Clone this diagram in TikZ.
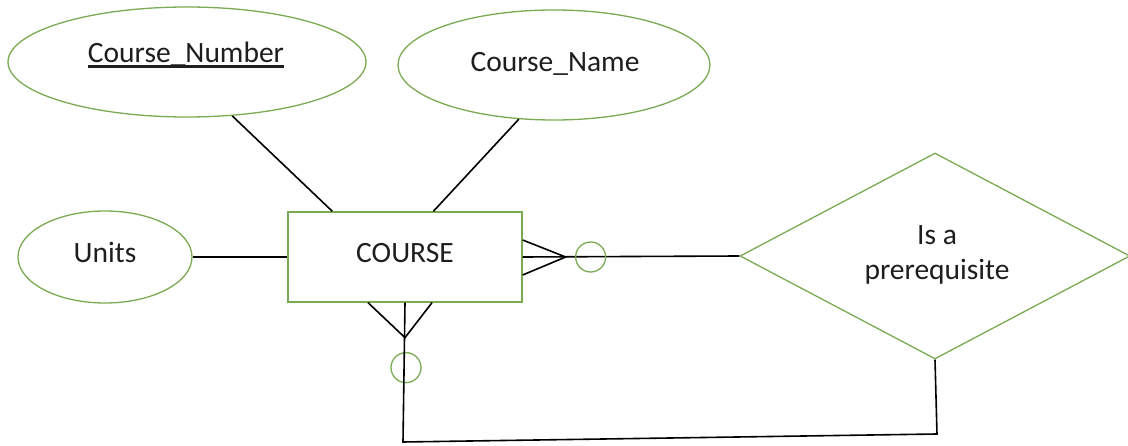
\documentclass[tikz,border=0pt]{standalone}
\usepackage{fontspec}
\setmainfont{Carlito}
\usetikzlibrary{shapes.geometric,calc}
\definecolor{attrgreen}{RGB}{122,170,82}
\definecolor{inktext}{RGB}{30,30,30}
% underline drawn as a rule under the whole key text
\newsavebox{\keytextbox}
\newcommand{\keyattr}[1]{\sbox{\keytextbox}{#1}%
  \rlap{\rule[-4.6pt]{\wd\keytextbox}{2.4pt}}\usebox{\keytextbox}}
\begin{document}
\begin{tikzpicture}[x=1pt,y=-1pt,
  shapeline/.style={draw=attrgreen,line width=1.3pt},
  attr/.style={shapeline,ellipse,inner sep=0pt},
  entitybox/.style={shapeline,rectangle,inner sep=0pt,minimum width=234pt,minimum height=90pt},
  relbox/.style={shapeline,diamond,inner sep=0pt,minimum width=390pt,minimum height=206pt},
  optring/.style={shapeline,circle,inner sep=0pt,minimum size=30pt},
  lbl/.style={font=\fontsize{29.5}{35}\selectfont,text=inktext,inner sep=0pt,anchor=base},
  link/.style={draw=black,line width=1.6pt},
]
\useasboundingbox (0,0) rectangle (1128,446);

% attribute ellipses
\node[attr,minimum width=358pt,minimum height=110pt] (cnum) at (187,62) {};
\node[attr,minimum width=312pt,minimum height=110pt] (cname) at (554,65) {};
\node[attr,minimum width=174pt,minimum height=92pt] (units) at (105,257) {};

% entity and relationship
\node[entitybox] (course) at (405,257) {};
\node[relbox] (prereq) at (935,256) {};

% texts
\node[lbl] (cnumt) at (186,63) {\keyattr{Course\_Number}};
\node[lbl] (cnamet) at (555,72) {Course\_Name};
\node[lbl] (unitst) at (105,263) {Units};
\node[lbl] (courset) at (405,263) {COURSE};
\node[lbl] (prereqt1) at (937,245) {Is a};
\node[lbl] (prereqt2) at (937,280) {prerequisite};

% attribute links
\path[link] (cnum.-50) -- ($(course.north west)+(45,0)$);
\path[link] (cname.-123) -- ($(course.north west)+(146,0)$);
\path[link] (units.east) -- (course.west);

% crow's foot to the right, with optional ring
\coordinate (rtip) at ($(course.east)+(43,0)$);
\path[link] (course.east) -- (prereq.west);
\path[link] ($(course.east)+(0,-17)$) -- (rtip) -- ($(course.east)+(0,18)$);
\node[optring] (rring) at ($(course.east)+(68,0)$) {};

% crow's foot downward, with optional ring
\coordinate (btip) at ($(course.south)+(0,35)$);
\path[link] ($(course.south)+(-37,0)$) -- (btip) -- ($(course.south)+(27,0)$);
\node[optring] (bring) at ($(course.south)+(1,65)$) {};

% recursive link back from the relationship
\coordinate (loopl) at (403,442);
\coordinate (loopr) at (937,434);
\path[link] (course.south) -- (loopl) -- (loopr) -- (prereq.south);
\end{tikzpicture}
\end{document}
